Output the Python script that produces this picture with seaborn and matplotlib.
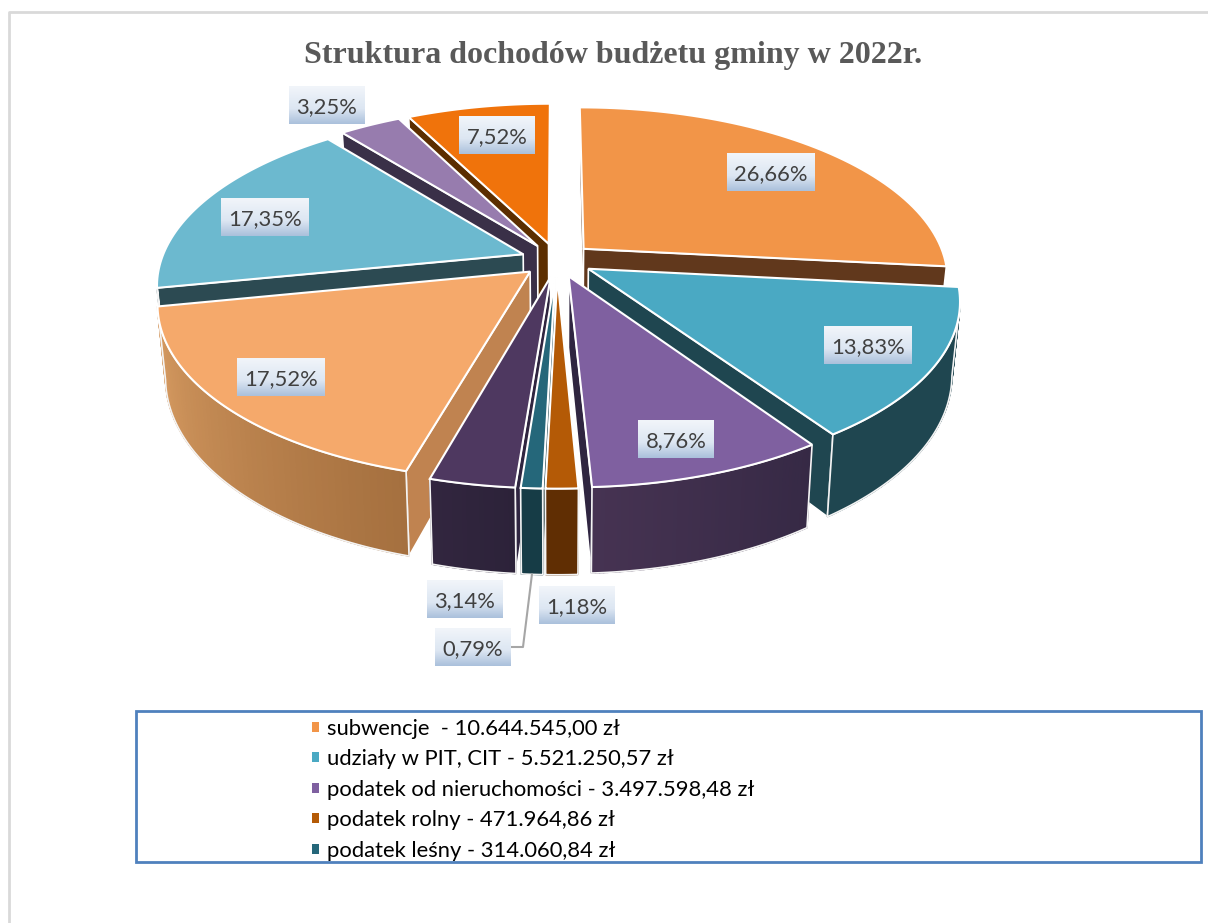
# -*- coding: utf-8 -*-
# Struktura dochodow budzetu gminy - pie 3D z wysunietymi kawalkami
import numpy as np
import seaborn as sns
import matplotlib.pyplot as plt
from matplotlib.colors import to_rgb
from matplotlib.patches import Patch, Rectangle

# dane (kolejnosc zgodnie z ruchem wskazowek zegara, od godziny 12)
pct = [26.66, 13.83, 8.76, 1.18, 0.79, 3.14, 17.52, 17.35, 3.25, 7.52]
pct_labels = ["26,66%", "13,83%", "8,76%", "1,18%", "0,79%",
              "3,14%", "17,52%", "17,35%", "3,25%", "7,52%"]
legend_labels = ["subwencje  - 10.644.545,00 zł",
                 "udziały w PIT, CIT - 5.521.250,57 zł",
                 "podatek od nieruchomości - 3.497.598,48 zł",
                 "podatek rolny - 471.964,86 zł",
                 "podatek leśny - 314.060,84 zł"]
title = "Struktura dochodów budżetu gminy w 2022r."

# kolory
top_colors = ["#F29548", "#4AA9C3", "#7F60A0", "#B45A06", "#25677A",
              "#4E3860", "#F5A96B", "#6CB9CF", "#977CAE", "#F0730B"]
cut_colors = ["#61381C", "#1F4650", "#2F2540", "#602E03", "#163C46",
              "#2F2540", "#C08350", "#2C4A52", "#3A3048", "#5C2E00"]
wall_left = ["#61381C", "#1F4650", "#463352", "#602E03", "#163C46",
             "#32263F", "#D89C62", "#2C4A52", "#3A3048", "#5C2E00"]
wall_right = ["#61381C", "#1F4650", "#362945", "#602E03", "#163C46",
              "#2C2239", "#A5703F", "#2C4A52", "#3A3048", "#5C2E00"]

# geometria rzutu (piksele)
cx, cy = 557, 260
rx, ry = 362, 169
persp = 0.17
explode = 0.10
height = 70
shrink = 0.98


def project(u, v):
    s = 1 / (1 + persp * v)
    return cx + rx * u * s, cy - ry * v * s, s


def bottom(u, v):
    x, y, s = project(u, v)
    return cx + (x - cx) * shrink, y + height * s


# pozycje etykiet (srodek ramki)
label_pos = [(771, 172), (868, 345), (676, 439), (577, 605), (473, 647),
             (465, 599), (281, 377), (265, 217), (327, 105), (497, 135)]

sns.set_theme(style="white")
plt.rcParams["font.family"] = ["Lato", "DejaVu Sans"]

fig = plt.figure(figsize=(12.08, 9.23), dpi=100)
ax = fig.add_axes([0, 0, 1, 1])

# kawalki: katy liczone z wartosci
edges = np.radians(np.cumsum([0] + pct) * 3.6)
slices = []
for i in range(len(pct)):
    mid = (edges[i] + edges[i + 1]) / 2
    slices.append((np.cos(mid), i, mid))

# najpierw tylne, potem przednie
for _, i, mid in sorted(slices, key=lambda t: -t[0]):
    ox, oy = explode * np.sin(mid), explode * np.cos(mid)
    th = np.linspace(edges[i], edges[i + 1], 60)
    us = ox + np.sin(th)
    vs = oy + np.cos(th)

    tip_x, tip_y, _ = project(ox, oy)
    tip_bx, tip_by = bottom(ox, oy)
    top_x = np.array([project(a, b)[0] for a, b in zip(us, vs)])
    top_y = np.array([project(a, b)[1] for a, b in zip(us, vs)])
    bot = [bottom(a, b) for a, b in zip(us, vs)]
    bot_x = np.array([p[0] for p in bot])
    bot_y = np.array([p[1] for p in bot])

    # sciany ciecia, tylko te zwrocone do widza
    if top_x[0] < tip_x:
        xs = [tip_x, top_x[0], bot_x[0], tip_bx]
        ys = [tip_y, top_y[0], bot_y[0], tip_by]
        ax.fill(xs, ys, fc=cut_colors[i], ec="white", lw=1.2)
    if top_x[-1] > tip_x:
        xs = [tip_x, top_x[-1], bot_x[-1], tip_bx]
        ys = [tip_y, top_y[-1], bot_y[-1], tip_by]
        ax.fill(xs, ys, fc=cut_colors[i], ec="white", lw=1.2)

    # zewnetrzna sciana z cieniowaniem
    idx = [k for k in range(len(th) - 1) if top_x[k + 1] < top_x[k]]
    if idx:
        c_right = np.array(to_rgb(wall_right[i]))
        c_left = np.array(to_rgb(wall_left[i]))
        for n, k in enumerate(idx):
            t = n / max(len(idx) - 1, 1)
            col = c_right * (1 - t) + c_left * t
            ax.fill([top_x[k], top_x[k + 1], bot_x[k + 1], bot_x[k]],
                    [top_y[k], top_y[k + 1], bot_y[k + 1], bot_y[k]],
                    fc=col, ec=col, lw=1.0)
        a, b = idx[0], idx[-1] + 1
        xs = np.r_[top_x[a:b + 1], bot_x[a:b + 1][::-1]]
        ys = np.r_[top_y[a:b + 1], bot_y[a:b + 1][::-1]]
        ax.fill(xs, ys, fc="none", ec="#f4f4f4", lw=1.2)

    # wierzch
    ax.fill(np.r_[tip_x, top_x], np.r_[tip_y, top_y],
            fc=top_colors[i], ec="white", lw=1.5, joinstyle="miter")

    if i == 4:
        # linia odniesienia 0,79%
        leader_x, leader_y = bottom(us[30], vs[30])

lx, ly = label_pos[4]
ax.plot([leader_x, 523, lx + 38], [leader_y, ly, ly], color="#A6A6A6", lw=1.5, zorder=2)

# etykiety z gradientem
grad_top = np.array(to_rgb("#F1F5FA"))
grad_mid = np.array(to_rgb("#DCE6F2"))
grad_bot = np.array(to_rgb("#ABC1DC"))
rows = []
for t in np.linspace(0, 1, 38):
    if t < 0.6:
        rows.append(grad_top + (grad_mid - grad_top) * t / 0.6)
    else:
        rows.append(grad_mid + (grad_bot - grad_mid) * (t - 0.6) / 0.4)
grad = np.array(rows).reshape(38, 1, 3)

for text, (x, y) in zip(pct_labels, label_pos):
    w = 44 if len(text) == 6 else 38
    ax.imshow(grad, extent=(x - w, x + w, y + 19, y - 19), aspect="auto",
              origin="upper", zorder=3, interpolation="bilinear")
    ax.text(x, y, text, ha="center", va="center_baseline", fontsize=15.8,
            color="#404040", zorder=4)

# tytul
ax.text(613.5, 55, title, ha="center", va="center", fontsize=23, fontweight="bold",
        family=["Liberation Serif"], color="#595959")

# ramka legendy i legenda
ax.add_patch(Rectangle((135.5, 711), 1065, 151, fc="white", ec="#4F81BD", lw=2))
handles = [Patch(fc=top_colors[i], ec="none", label=legend_labels[i])
           for i in range(len(legend_labels))]
leg = ax.legend(handles=handles, loc="upper left", frameon=False,
                bbox_to_anchor=(305.5, 712), bbox_transform=ax.transData,
                fontsize=15.8, handlelength=0.32, handleheight=0.32, handletextpad=0.34,
                labelspacing=0.48, borderpad=0.3, borderaxespad=0)
for t in leg.get_texts():
    t.set_color("#000000")

# szara ramka wokol obrazu
ax.plot([9, 9, 1208], [923, 12, 12], color="#D9D9D9", lw=2, zorder=0)

ax.set_xlim(0, 1208)
ax.set_ylim(923, 0)
ax.axis("off")
fig.savefig("out.png", dpi=100)
